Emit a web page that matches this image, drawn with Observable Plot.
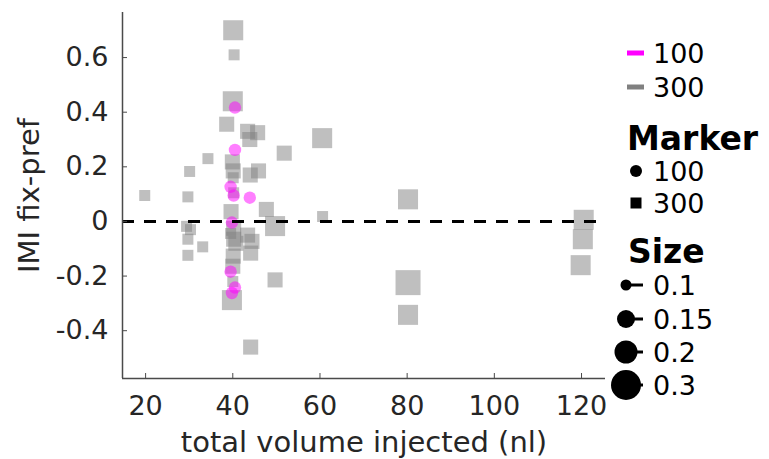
<!DOCTYPE html>
<html><head><meta charset="utf-8">
<script src="https://cdn.jsdelivr.net/npm/d3@7"></script>
<script src="https://cdn.jsdelivr.net/npm/@observablehq/plot@0.6"></script>
<style>
body{margin:0;background:#fff;font-family:"DejaVu Sans",sans-serif;}
#wrap{position:relative;width:769px;height:459px;overflow:hidden;}
#legend{position:absolute;left:0;top:0;}
</style></head><body><div id="wrap"></div>
<script>
// group "300" (squares)
const x300 = [40.1,40.3,40.0,38.6,43.4,45.7,43.9,60.5,51.8,34.3,39.9,40.1,40.1,30.1,45.9,44.0,19.8,29.7,40.2,47.7,49.7,60.6,80.2,80.2,80.2,120.5,120.3,119.8,29.4,30.3,29.7,29.7,33.1,39.6,40.2,40.2,40.7,40.1,40.0,43.4,44.4,44.1,49.7,39.8,44.1,40.0,39.5];
const y300 = [0.70,0.61,0.44,0.356,0.33,0.325,0.30,0.305,0.25,0.23,0.218,0.185,0.16,0.183,0.185,0.17,0.095,0.09,0.105,0.044,-0.017,0.018,0.081,-0.224,-0.342,0.006,-0.065,-0.16,-0.018,-0.03,-0.065,-0.124,-0.093,0.036,-0.025,-0.065,-0.08,-0.127,-0.164,-0.05,-0.073,-0.116,-0.214,-0.288,-0.46,-0.22,-0.044];
const s300 = [0.2,0.1,0.2,0.15,0.15,0.15,0.15,0.2,0.15,0.1,0.15,0.15,0.1,0.1,0.15,0.15,0.1,0.1,0.1,0.15,0.2,0.1,0.2,0.3,0.2,0.2,0.2,0.2,0.1,0.1,0.1,0.1,0.1,0.15,0.15,0.15,0.15,0.15,0.15,0.15,0.15,0.15,0.15,0.2,0.15,0.1,0.1];
// group "100" (circles)
const x100 = [40.5,40.5,39.5,40.2,43.9,39.8,39.5,40.5,39.8];
const y100 = [0.417,0.262,0.127,0.095,0.087,-0.004,-0.184,-0.242,-0.262];
const s100 = [0.1,0.1,0.1,0.1,0.1,0.1,0.1,0.1,0.1];

const groups = ["100","300"];
const groupColors = ["#ff00ff","#808080"];
const groupSymbols = ["circle","square"];
const sizeLevels = [0.1,0.15,0.2,0.3];
const xTicks = [20,40,60,80,100,120];
const yTicks = [-0.4,-0.2,0,0.2,0.4,0.6];
const xDomain = [14.7,125.5];
const yDomain = [-0.575,0.765];

const data = [
  ...x300.map((x,i)=>({vol:x, imi:y300[i], size:s300[i], group:"300"})),
  ...x100.map((x,i)=>({vol:x, imi:y100[i], size:s100[i], group:"100"}))
];

const axisCol = "#4a4a4a";
const plot = Plot.plot({
  width:769, height:459,
  marginLeft:122, marginRight:164, marginTop:12, marginBottom:81,
  style:{fontFamily:"DejaVu Sans", fontSize:"27px", color:"#262626", background:"white", overflow:"visible"},
  x:{domain:xDomain, label:null},
  y:{domain:yDomain, label:null},
  r:{type:"linear", domain:sizeLevels, range:[6.2,8.5,11.3,14.1]},
  color:{domain:groups, range:groupColors},
  symbol:{domain:groups, range:groupSymbols},
  marks:[
    Plot.dot(data, {x:"vol", y:"imi", r:"size", fill:"group", symbol:"group", fillOpacity:0.5, stroke:"none", sort:null}),
    Plot.ruleY([0], {stroke:"black", strokeWidth:3, strokeDasharray:"12,10"}),
    Plot.ruleX([xDomain[0]], {stroke:axisCol, strokeWidth:1.5}),
    Plot.ruleY([yDomain[0]], {stroke:axisCol, strokeWidth:1.5}),
    Plot.axisY(yTicks, {tickSize:-5, tickPadding:19, tickFormat:d=>String(d), fontSize:27, stroke:axisCol, label:null}),
    Plot.axisY([], {label:"IMI fix-pref", labelAnchor:"center", labelOffset:104, labelArrow:"none", fontSize:29, tickSize:0}),
    Plot.axisX(xTicks, {tickSize:-5, tickPadding:22, tickFormat:d=>String(d), fontSize:27, stroke:axisCol, label:null}),
    Plot.axisX([], {label:"total volume injected (nl)", labelAnchor:"center", labelOffset:73, labelArrow:"none", fontSize:29, tickSize:0})
  ]
});
const wrap = document.getElementById("wrap");
wrap.appendChild(plot);

// legend
const svg = d3.select(wrap).append("svg").attr("id","legend").attr("width",769).attr("height",459)
  .style("font-family","DejaVu Sans");
const colorRows = [53,87];
groups.forEach((g,i)=>{
  svg.append("line").attr("x1",627).attr("x2",644).attr("y1",colorRows[i]).attr("y2",colorRows[i])
    .attr("stroke",groupColors[i]).attr("stroke-width",5);
  svg.append("text").attr("x",653).attr("y",colorRows[i]).attr("dy","0.36em").attr("font-size",27).text(g);
});
svg.append("text").attr("x",627).attr("y",150).attr("font-size",33).attr("font-weight","bold").text("Marker");
const markerRows = [171,203];
groups.forEach((g,i)=>{
  const sym = d3.symbol(i===0?d3.symbolCircle:d3.symbolSquare, i===0?Math.PI*36:121);
  svg.append("path").attr("d",sym()).attr("transform",`translate(636,${markerRows[i]})`).attr("fill","black");
  svg.append("text").attr("x",653).attr("y",markerRows[i]).attr("dy","0.36em").attr("font-size",27).text(g);
});
svg.append("text").attr("x",628).attr("y",263).attr("font-size",33).attr("font-weight","bold").text("Size");
const sizeRows = [285,319,352,385];
const sizeRadii = [5.5,9,11.5,15];
sizeLevels.forEach((s,i)=>{
  svg.append("line").attr("x1",626).attr("x2",643).attr("y1",sizeRows[i]).attr("y2",sizeRows[i])
    .attr("stroke","black").attr("stroke-width",3);
  svg.append("circle").attr("cx",626).attr("cy",sizeRows[i]).attr("r",sizeRadii[i]).attr("fill","black");
  svg.append("text").attr("x",653).attr("y",sizeRows[i]).attr("dy","0.36em").attr("font-size",27).text(String(s));
});
</script></body></html>
